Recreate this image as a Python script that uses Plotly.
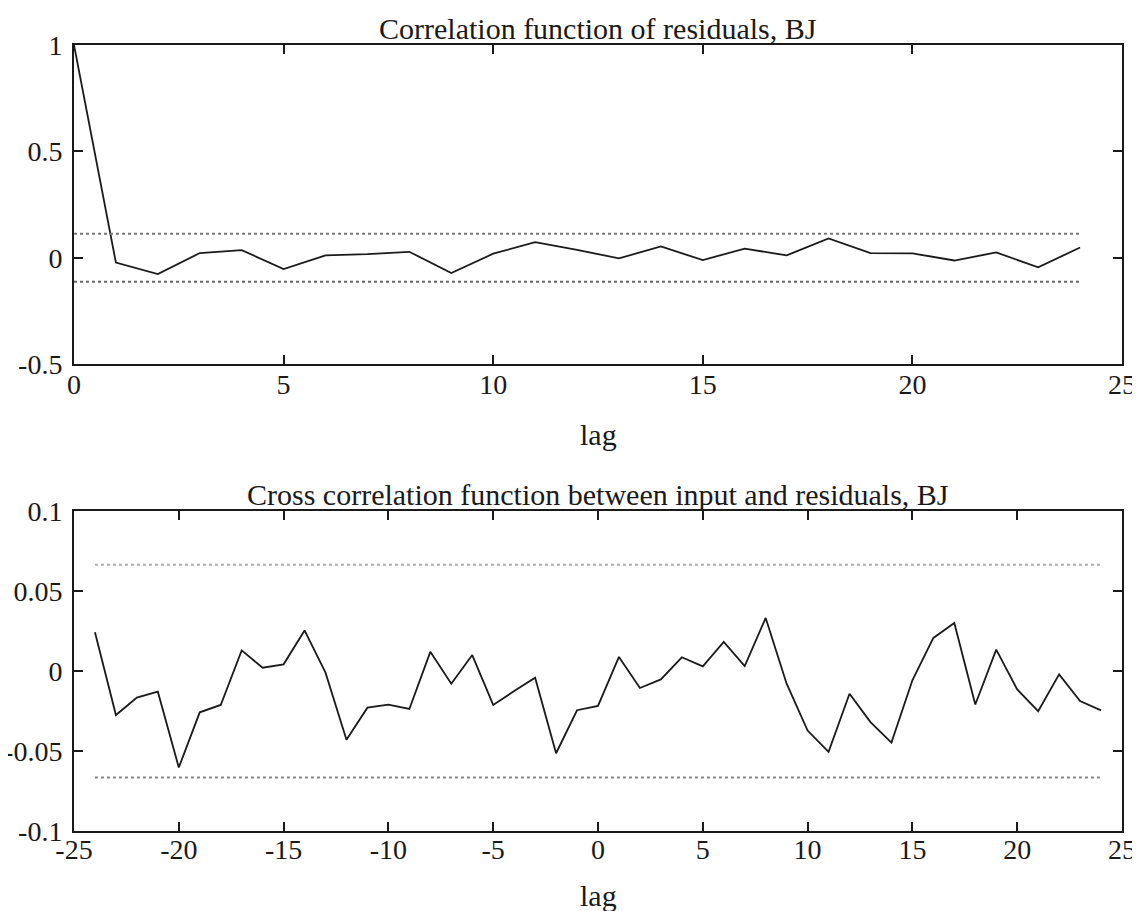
import plotly.graph_objects as go

# ---- data ----
acf_lags = list(range(0, 25))
acf_vals = [1.0, -0.023, -0.077, 0.022, 0.036, -0.053, 0.011, 0.017, 0.028, -0.072,
            0.019, 0.073, 0.037, -0.003, 0.053, -0.011, 0.043, 0.011, 0.091, 0.022,
            0.021, -0.013, 0.025, -0.045, 0.048]
acf_conf = 0.113
acf_conf_lags = [0, 24]

ccf_lags = list(range(-24, 25))
ccf_vals = [0.0243, -0.0275, -0.0166, -0.0129, -0.0603, -0.0258, -0.0212, 0.0129, 0.0021, 0.0042,
            0.0254, -0.001, -0.043, -0.0229, -0.021, -0.0237, 0.012, -0.0079, 0.010, -0.0212,
            -0.0125, -0.0042, -0.0514, -0.0245, -0.0218, 0.0088, -0.0106, -0.0052, 0.0086, 0.0029,
            0.0182, 0.0031, 0.0332, -0.0079, -0.0372, -0.0505, -0.0142, -0.0319, -0.0447, -0.0058,
            0.0207, 0.0301, -0.0209, 0.0134, -0.0115, -0.0251, -0.0021, -0.0188, -0.0246]
ccf_conf = 0.0665
ccf_conf_lags = [-24, 24]

top_title = "Correlation function of residuals, BJ"
bot_title = "Cross correlation function between input and residuals, BJ"
xlabel = "lag"

top_xticks = [0, 5, 10, 15, 20, 25]
top_yticks = [-0.5, 0, 0.5, 1]
top_yticktext = ["-0.5", "0", "0.5", "1"]
bot_xticks = [-25, -20, -15, -10, -5, 0, 5, 10, 15, 20, 25]
bot_xticktext = ["-25", "-20", "-15", "-10", "-5", "0", "5", "10", "15", "20", "25"]
bot_yticks = [-0.1, -0.05, 0, 0.05, 0.1]
bot_yticktext = ["-0.1", "-0.05", "0", "0.05", "0.1"]

FONT = "Liberation Serif, Times New Roman, serif"
INK = "#1a1a1a"

fig = go.Figure()

# top panel
fig.add_trace(go.Scatter(x=acf_lags, y=acf_vals, mode="lines",
                         line=dict(color=INK, width=1.8), xaxis="x", yaxis="y", showlegend=False))
fig.add_trace(go.Scatter(x=acf_conf_lags, y=[acf_conf, acf_conf], mode="lines",
                         line=dict(color="#777", width=2, dash="dot"), xaxis="x", yaxis="y", showlegend=False))
fig.add_trace(go.Scatter(x=acf_conf_lags, y=[-acf_conf, -acf_conf], mode="lines",
                         line=dict(color="#666", width=2, dash="dot"), xaxis="x", yaxis="y", showlegend=False))

# bottom panel
fig.add_trace(go.Scatter(x=ccf_lags, y=ccf_vals, mode="lines",
                         line=dict(color=INK, width=1.8), xaxis="x2", yaxis="y2", showlegend=False))
fig.add_trace(go.Scatter(x=ccf_conf_lags, y=[ccf_conf, ccf_conf], mode="lines",
                         line=dict(color="#aaa", width=2, dash="dot"), xaxis="x2", yaxis="y2", showlegend=False))
fig.add_trace(go.Scatter(x=ccf_conf_lags, y=[-ccf_conf, -ccf_conf], mode="lines",
                         line=dict(color="#888", width=2, dash="dot"), xaxis="x2", yaxis="y2", showlegend=False))

axis_common = dict(showgrid=False, zeroline=False, showline=True, linecolor=INK, linewidth=2,
                   mirror="ticks", ticks="inside", ticklen=9, tickwidth=1.5, tickcolor=INK,
                   automargin=False,
                   tickfont=dict(family=FONT, size=28, color=INK))

fig.update_layout(
    width=1140, height=911,
    margin=dict(l=66, r=26, t=37, b=88),
    plot_bgcolor="white", paper_bgcolor="white",
    xaxis=dict(domain=[0, 1], anchor="y", range=[0, 25], tickvals=top_xticks,
               ticklabelstandoff=-6, **axis_common),
    yaxis=dict(domain=[0.594, 1], anchor="x", range=[-0.5, 1], tickvals=top_yticks,
               ticktext=top_yticktext, ticklabelstandoff=4, **axis_common),
    xaxis2=dict(domain=[0, 1], anchor="y2", range=[-25, 25], tickvals=bot_xticks,
                ticktext=bot_xticktext, ticklabelstandoff=-8, **axis_common),
    yaxis2=dict(domain=[0, 0.407], anchor="x2", range=[-0.1, 0.1], tickvals=bot_yticks,
                ticktext=bot_yticktext, ticklabelstandoff=4, **axis_common),
)

ann_font = dict(family=FONT, size=30, color=INK)
fig.add_annotation(text=top_title, xref="x domain", yref="y domain", x=0.5, y=1,
                   xanchor="center", yanchor="bottom", yshift=-2, showarrow=False, font=ann_font)
fig.add_annotation(text=bot_title, xref="x2 domain", yref="y2 domain", x=0.5, y=1,
                   xanchor="center", yanchor="bottom", yshift=-2, showarrow=False, font=ann_font)
fig.add_annotation(text=xlabel, xref="x domain", yref="y domain", x=0.5, y=0,
                   xanchor="center", yanchor="middle", yshift=-70, showarrow=False, font=ann_font)
fig.add_annotation(text=xlabel, xref="x2 domain", yref="y2 domain", x=0.5, y=0,
                   xanchor="center", yanchor="middle", yshift=-64, showarrow=False, font=ann_font)

fig.write_html("out.html")
